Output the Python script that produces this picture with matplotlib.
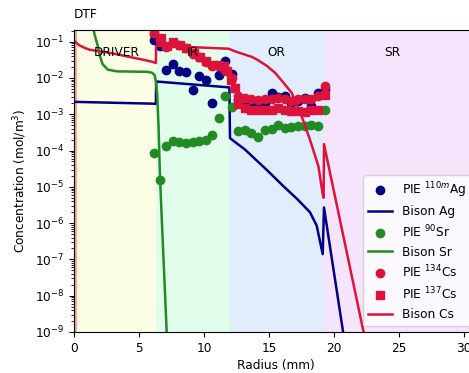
import numpy as np
import matplotlib
matplotlib.use('Agg')
import matplotlib.pyplot as plt

plt.rcParams['font.size'] = 8.7

# region boundaries (mm) and labels
regions = ['DRIVER', 'IR', 'OR', 'SR']
region_edges = [0.2, 6.3, 12.0, 19.2, 31.0]
region_colors = ['#fbfee4', '#e3fdec', '#e2edfb', '#f5e4fb']
dtf_edge = 0.2

# PIE measurements
x_pie = [6.15, 6.65, 7.1, 7.6, 8.1, 8.6, 9.15, 9.65, 10.15, 10.65, 11.15, 11.65, 12.15,
         12.65, 13.15, 13.65, 14.15, 14.7, 15.2, 15.7, 16.2, 16.7, 17.25, 17.75, 18.25, 18.8, 19.3]
ag_pie = [0.11, 0.075, 0.017, 0.025, 0.016, 0.0145, 4.8e-3, 0.0115, 9e-3, 2.1e-3, 0.012, 0.03, 0.013,
          2.5e-3, 2.2e-3, 2.0e-3, 1.9e-3, 2.0e-3, 3.8e-3, 3.0e-3, 3.2e-3, 2.1e-3, 2.3e-3, 2.8e-3, 1.7e-3, 3.8e-3, 5.0e-3]
sr_pie = [8.5e-5, 1.5e-5, 1.3e-4, 1.8e-4, 1.75e-4, 1.6e-4, 1.75e-4, 1.8e-4, 2.0e-4, 2.6e-4, 8e-4, 3.1e-3, 1.6e-3,
          3.4e-4, 3.6e-4, 3.1e-4, 2.3e-4, 3.8e-4, 3.9e-4, 5.2e-4, 4.3e-4, 4.6e-4, 4.9e-4, 4.7e-4, 5.1e-4, 4.8e-4, 1.3e-3]
cs134_pie = [0.17, 0.11, 0.07, 0.095, 0.08, 0.065, 0.047, 0.037, 0.028, 0.022, 0.022, 0.017, 0.01,
             3.2e-3, 2.8e-3, 2.6e-3, 2.5e-3, 2.6e-3, 2.7e-3, 2.8e-3, 2.6e-3, 2.3e-3, 2.6e-3, 2.6e-3, 2.6e-3, 3.2e-3, 5.9e-3]
x_cs137 = [6.15, 6.7, 7.15, 7.6, 8.15, 8.65, 9.2, 9.7, 10.15, 10.7, 11.1, 11.5, 11.75, 12.05, 12.4,
           12.65, 13.15, 13.65, 14.15, 14.7, 15.2, 15.7, 16.2, 16.7, 17.25, 17.75, 18.25, 18.8, 19.3]
cs137_pie = [0.19, 0.125, 0.074, 0.10, 0.083, 0.067, 0.049, 0.039, 0.029, 0.023, 0.023, 0.021, 0.0155, 9e-3, 5.3e-3,
             1.9e-3, 1.5e-3, 1.35e-3, 1.3e-3, 1.3e-3, 1.35e-3, 1.5e-3, 1.3e-3, 1.2e-3, 1.2e-3, 1.15e-3, 1.3e-3, 1.35e-3, 3.5e-3]

# Bison model profiles
x_ag = [0.0, 6.3, 6.32, 11.95, 12.0, 12.5, 13.15, 13.54, 14.8, 16.1, 17.2, 18.15, 18.67, 19.13, 19.23, 20.7, 21.1]
ag_bison = [2.2e-3, 1.95e-3, 8e-3, 5.5e-3, 2.2e-4, 1.6e-4, 1.07e-4, 7.9e-5, 3e-5, 1.05e-5, 4.5e-6, 2e-6,
            8.5e-7, 1.4e-7, 2.7e-6, 1e-9, 1.1e-10]
x_sr = [1.4, 1.6, 1.8, 2.0, 2.2, 2.6, 3.3, 5.6, 6.0, 6.2, 6.3, 6.4, 6.5, 6.62, 7.13, 7.2]
sr_bison = [0.3, 0.15, 0.083, 0.04, 0.024, 0.017, 0.0152, 0.0148, 0.014, 0.012, 8e-3, 3.5e-3, 5e-4, 1.6e-5, 1e-9, 4e-10]
x_cs = [0.0, 0.15, 0.4, 0.8, 1.2, 2.8, 5.85, 6.3, 6.32, 11.9, 12.4, 13.15, 13.7, 14.15, 14.8, 15.46, 16.1, 16.75,
        17.5, 18.15, 18.8, 19.13, 19.2, 19.23, 22.25, 22.6]
cs_bison = [0.11, 0.095, 0.08, 0.068, 0.06, 0.049, 0.029, 0.026, 0.078, 0.064, 0.054, 0.044, 0.038, 0.031, 0.022,
            0.014, 7.5e-3, 3.9e-3, 9e-4, 2e-4, 3.7e-5, 6.3e-6, 5e-6, 1.5e-4, 1.1e-9, 3e-10]

my_dpi = 100
fig = plt.figure(figsize=(469 / my_dpi, 373 / my_dpi), dpi=my_dpi)
ax = fig.add_axes([74 / 469, 41 / 373, 403 / 469, 302 / 373])

ax.axvspan(0, dtf_edge, color='#f6a5a5', lw=0)
for i, name in enumerate(regions):
    ax.axvspan(region_edges[i], region_edges[i + 1], color=region_colors[i], lw=0)
    ax.text((region_edges[i] + min(region_edges[i + 1], 29.8)) / 2, 0.05, name,
            ha='center', va='center')

ax.text(0, 1.05, 'DTF', transform=ax.transAxes, ha='left', va='center')

ms = 6
ax.plot(x_pie, ag_pie, 'o', color='navy', ms=ms, label='PIE $^{110m}$Ag')
ax.plot(x_ag, ag_bison, '-', color='navy', lw=1.8, label='Bison Ag')
ax.plot(x_pie, sr_pie, 'o', color='forestgreen', ms=ms, label='PIE $^{90}$Sr')
ax.plot(x_sr, sr_bison, '-', color='forestgreen', lw=1.8, label='Bison Sr')
ax.plot(x_pie, cs134_pie, 'o', color='crimson', ms=ms, label='PIE $^{134}$Cs')
ax.plot(x_cs137, cs137_pie, 's', color='crimson', ms=ms, label='PIE $^{137}$Cs')
ax.plot(x_cs, cs_bison, '-', color='crimson', lw=1.8, label='Bison Cs')

ax.set_yscale('log')
ax.set_ylim(1e-9, 0.21)
ax.set_xlim(0, 31)
ax.set_xticks([0, 5, 10, 15, 20, 25, 30])
ax.set_xlabel('Radius (mm)', labelpad=3)
ax.set_ylabel('Concentration (mol/m$^3$)')
ax.legend(loc='lower right', labelspacing=0.45)

plt.savefig('out.png', dpi=my_dpi)
